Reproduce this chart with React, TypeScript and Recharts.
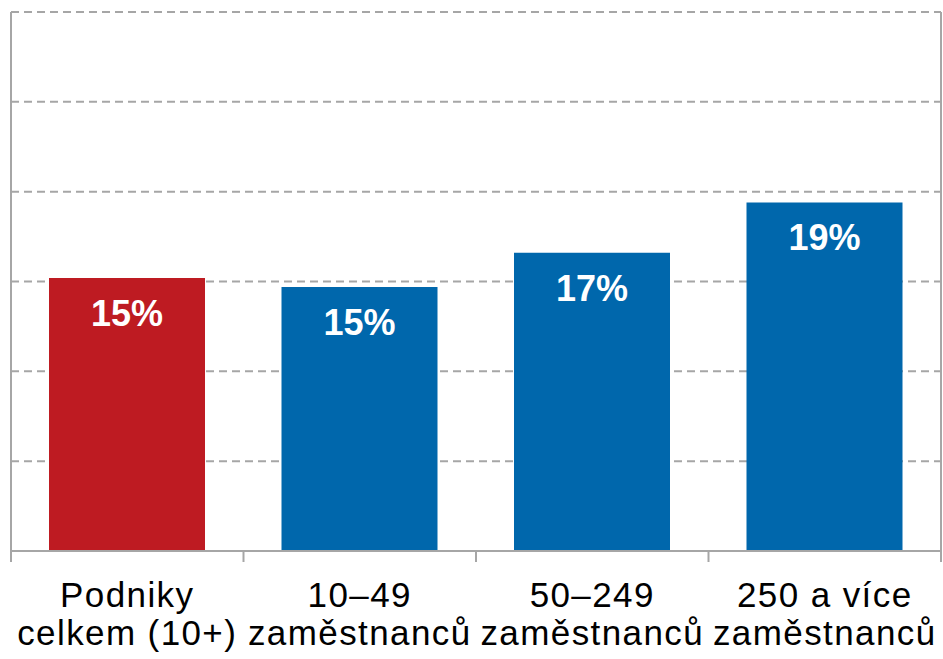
import React from 'react';
import {
  BarChart,
  Bar,
  XAxis,
  YAxis,
  CartesianGrid,
  Cell,
  LabelList,
} from 'recharts';

const categories = [
  ['Podniky', 'celkem (10+)'],
  ['10–49', 'zaměstnanců'],
  ['50–249', 'zaměstnanců'],
  ['250 a více', 'zaměstnanců'],
];
const shares = [15.2, 14.7, 16.6, 19.4];
const shareLabels = ['15%', '15%', '17%', '19%'];
const barColors = ['#BE1B22', '#0067AC', '#0067AC', '#0067AC'];
const yTicks = [0, 5, 10, 15, 20, 25, 30];
const boundaryTicks = [0, 1, 2, 3, 4];

const data = categories.map((c, i) => ({
  name: c.join(' '),
  pos: i + 0.5,
  value: shares[i],
  label: shareLabels[i],
}));

const GRAY = '#A6A6A6';
const FONT = '"Liberation Sans", Arial, sans-serif';

function CategoryTick(props: any) {
  const { x, payload } = props;
  const lines = categories[payload.index] || [];
  return (
    <g>
      {lines.map((line, i) => (
        <text
          key={i}
          x={x}
          y={607 + i * 38}
          textAnchor="middle"
          fontSize={35}
          letterSpacing={1.4}
          fontFamily={FONT}
          fill="#000"
        >
          {line}
        </text>
      ))}
    </g>
  );
}

function ValueLabel(props: any) {
  const { x, y, width, index } = props;
  return (
    <text
      x={x + width / 2}
      y={y + 48}
      textAnchor="middle"
      fontSize={36}
      fontWeight="bold"
      fontFamily={FONT}
      fill="#fff"
    >
      {shareLabels[index]}
    </text>
  );
}

const emptyTick = () => <g />;

export default function App() {
  return (
    <div style={{ position: 'absolute', top: 0, left: 0, width: 943, height: 659, background: '#fff' }}>
      <BarChart
        width={943}
        height={659}
        data={data}
        margin={{ top: 12, right: 1, bottom: 0, left: 10 }}
      >
        <CartesianGrid
          yAxisId="l"
          xAxisId="c"
          vertical={false}
          stroke={GRAY}
          strokeWidth={2}
          strokeDasharray="8 5"
        />
        <YAxis
          yAxisId="l"
          width={1}
          domain={[0, 30]}
          ticks={yTicks}
          interval={0}
          tick={emptyTick}
          tickLine={false}
          axisLine={{ stroke: GRAY, strokeWidth: 2 }}
        />
        <YAxis
          yAxisId="r"
          orientation="right"
          width={1}
          domain={[0, 30]}
          ticks={yTicks}
          tick={false}
          tickLine={false}
          axisLine={{ stroke: GRAY, strokeWidth: 2 }}
        />
        <XAxis
          xAxisId="b"
          dataKey="pos"
          type="number"
          domain={[0, 4]}
          ticks={boundaryTicks}
          interval={0}
          allowDataOverflow
          height={1}
          tickSize={11}
          tickLine={{ stroke: GRAY, strokeWidth: 2 }}
          axisLine={{ stroke: GRAY, strokeWidth: 2 }}
          tick={emptyTick}
        />
        <XAxis
          xAxisId="c"
          dataKey="name"
          height={107}
          tickLine={false}
          axisLine={false}
          tick={<CategoryTick />}
          interval={0}
        />
        <Bar
          dataKey="value"
          xAxisId="c"
          yAxisId="l"
          barSize={156}
          isAnimationActive={false}
        >
          {data.map((d, i) => (
            <Cell key={d.name} fill={barColors[i]} />
          ))}
          <LabelList dataKey="label" content={<ValueLabel />} />
        </Bar>
      </BarChart>
    </div>
  );
}
